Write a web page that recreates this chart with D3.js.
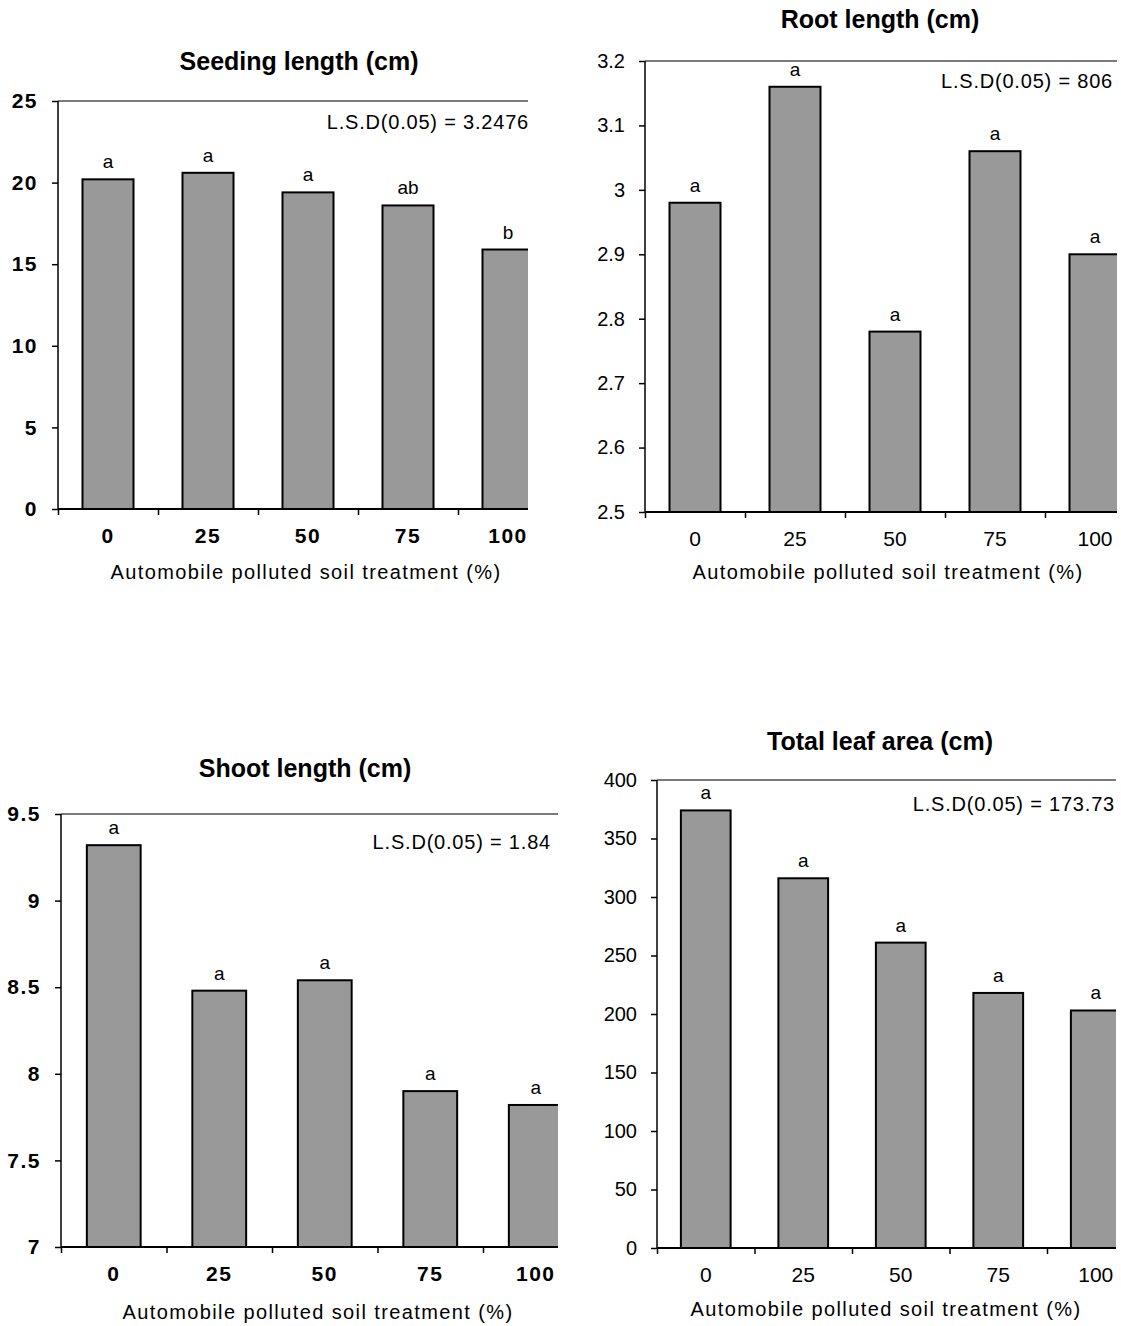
<!DOCTYPE html>
<html>
<head>
<meta charset="utf-8">
<script src="https://cdn.jsdelivr.net/npm/d3@7"></script>
<style>
  body { margin: 0; background: #fff; }
  svg { display: block; font-family: Arial, "Liberation Sans", sans-serif; }
</style>
</head>
<body>
<div id="chart-area"></div>
<script>
// categories (x axis)
let categories = ["0", "25", "50", "75", "100"];

// seeding length
let seedingValues = [20.2, 20.6, 19.4, 18.6, 15.9];
let seedingLetters = ["a", "a", "a", "ab", "b"];
let seedingTicks = [0, 5, 10, 15, 20, 25];

// root length
let rootValues = [2.98, 3.16, 2.78, 3.06, 2.90];
let rootLetters = ["a", "a", "a", "a", "a"];
let rootTicks = [2.5, 2.6, 2.7, 2.8, 2.9, 3, 3.1, 3.2];

// shoot length
let shootValues = [9.32, 8.48, 8.54, 7.90, 7.82];
let shootLetters = ["a", "a", "a", "a", "a"];
let shootTicks = [7, 7.5, 8, 8.5, 9, 9.5];

// total leaf area
let leafValues = [374, 316, 261, 218, 203];
let leafLetters = ["a", "a", "a", "a", "a"];
let leafTicks = [0, 50, 100, 150, 200, 250, 300, 350, 400];

let width = 1121,
	height = 1326;

let svg = d3.select("#chart-area").append("svg")
	.attr("width", width)
	.attr("height", height);

// panel layouts
let panels = [
	{id: "p1", title: "Seeding length (cm)", lsd: "L.S.D(0.05) = 3.2476", values: seedingValues, letters: seedingLetters, ticks: seedingTicks,
	 x0: 58, top: 101, bottom: 509, step: 100, right: 528, bold: true, titleX: 299, titleY: 70, lsdX: 529, lsdY: 129, xTitleX: 306, xTitleY: 579},
	{id: "p2", title: "Root length (cm)", lsd: "L.S.D(0.05) = 806", values: rootValues, letters: rootLetters, ticks: rootTicks,
	 x0: 645, top: 61, bottom: 512, step: 100, right: 1117, bold: false, titleX: 880, titleY: 28, lsdX: 1113, lsdY: 88, xTitleX: 888, xTitleY: 579},
	{id: "p3", title: "Shoot length (cm)", lsd: "L.S.D(0.05) = 1.84", values: shootValues, letters: shootLetters, ticks: shootTicks,
	 x0: 61, top: 814, bottom: 1247, step: 105.5, right: 558, bold: true, titleX: 305, titleY: 777, lsdX: 551, lsdY: 849, xTitleX: 318, xTitleY: 1319},
	{id: "p4", title: "Total leaf area (cm)", lsd: "L.S.D(0.05) = 173.73", values: leafValues, letters: leafLetters, ticks: leafTicks,
	 x0: 657, top: 780, bottom: 1248, step: 97.5, right: 1116, bold: false, titleX: 880, titleY: 750, lsdX: 1115, lsdY: 811, xTitleX: 886, xTitleY: 1316}
];

panels.forEach(drawPanel);

function drawPanel(p) {

	let g = svg.append("g").attr("class", "panel " + p.id);

	// clip (the original charts are cut off on the right)
	g.append("clipPath").attr("id", "clip-" + p.id)
		.append("rect")
		.attr("x", p.x0 - 10)
		.attr("y", p.top - 40)
		.attr("width", p.right - p.x0 + 10)
		.attr("height", p.bottom - p.top + 60);

	let plot = g.append("g").attr("clip-path", "url(#clip-" + p.id + ")");

	// scales
	let x = d3.scaleBand()
		.domain(categories)
		.range([p.x0, p.x0 + p.step * categories.length])
		.paddingInner(0.49)
		.paddingOuter(0.245);

	let edges = d3.scaleLinear()
		.domain([0, categories.length])
		.range([p.x0, p.x0 + p.step * categories.length]);

	let y = d3.scaleLinear()
		.domain([p.ticks[0], p.ticks[p.ticks.length - 1]])
		.range([p.bottom, p.top]);

	// top border
	plot.append("line")
		.attr("x1", p.x0).attr("x2", p.right + 5)
		.attr("y1", y(y.domain()[1])).attr("y2", y(y.domain()[1]))
		.attr("stroke", "#7a7a7a").attr("stroke-width", 2);

	// bars
	plot.selectAll(".bar").data(p.values)
		.enter().append("rect")
		.attr("class", "bar")
		.attr("x", (d, i) => x(categories[i]))
		.attr("width", x.bandwidth())
		.attr("y", d => y(d))
		.attr("height", d => y(y.domain()[0]) - y(d))
		.attr("fill", "#999999")
		.attr("stroke", "#000")
		.attr("stroke-width", 2);

	// significance letters
	g.selectAll(".letter").data(p.letters)
		.enter().append("text")
		.attr("class", "letter")
		.attr("x", (d, i) => x(categories[i]) + x.bandwidth() / 2)
		.attr("y", (d, i) => y(p.values[i]) - 11)
		.attr("text-anchor", "middle")
		.attr("font-size", 19)
		.text(d => d);

	// y axis
	let yAxis = d3.axisLeft(y)
		.tickValues(p.ticks)
		.tickFormat(d => d)
		.tickSize(6)
		.tickPadding(14);

	let yG = g.append("g")
		.attr("transform", `translate(${p.x0},0)`)
		.call(yAxis);
	yG.select(".domain").remove();
	yG.selectAll(".tick line").attr("stroke", "#000").attr("stroke-width", 1.5);
	yG.selectAll(".tick text")
		.attr("font-family", "Arial, 'Liberation Sans', sans-serif")
		.attr("font-size", p.bold ? 21 : 20)
		.attr("font-weight", p.bold ? "bold" : "normal")
		.attr("letter-spacing", p.bold ? 1.5 : 0)
		.attr("fill", "#000");

	g.append("line")
		.attr("x1", p.x0).attr("x2", p.x0)
		.attr("y1", p.top).attr("y2", p.bottom)
		.attr("stroke", "#000").attr("stroke-width", 1.5);

	// x axis line + boundary ticks
	let xEdgeAxis = d3.axisBottom(edges)
		.tickValues(d3.range(categories.length))
		.tickFormat("")
		.tickSize(6)
		.tickSizeOuter(0);

	let xe = plot.append("g")
		.attr("transform", `translate(0,${p.bottom})`)
		.call(xEdgeAxis);
	xe.select(".domain").attr("stroke", "#000").attr("stroke-width", 2)
		.attr("d", `M${p.x0},0H${p.right + 5}`);
	xe.selectAll(".tick line").attr("stroke", "#000").attr("stroke-width", 1.5);

	// category labels
	let xAxis = d3.axisBottom(x).tickSize(0).tickPadding(19);
	let xg = g.append("g")
		.attr("transform", `translate(0,${p.bottom})`)
		.call(xAxis);
	xg.select(".domain").remove();
	xg.selectAll(".tick text")
		.attr("font-family", "Arial, 'Liberation Sans', sans-serif")
		.attr("font-size", 21)
		.attr("font-weight", p.bold ? "bold" : "normal")
		.attr("letter-spacing", p.bold ? 1.5 : 0)
		.attr("fill", "#000");

	// titles
	g.append("text")
		.attr("x", p.titleX).attr("y", p.titleY)
		.attr("text-anchor", "middle")
		.attr("font-size", 25)
		.attr("font-weight", "bold")
		.text(p.title);

	g.append("text")
		.attr("x", p.lsdX).attr("y", p.lsdY)
		.attr("text-anchor", "end")
		.attr("font-size", 20)
		.attr("letter-spacing", 0.8)
		.text(p.lsd);

	g.append("text")
		.attr("x", p.xTitleX).attr("y", p.xTitleY)
		.attr("text-anchor", "middle")
		.attr("font-size", 20)
		.attr("letter-spacing", 1.4)
		.text("Automobile polluted soil treatment (%)");
}
</script>
</body>
</html>
